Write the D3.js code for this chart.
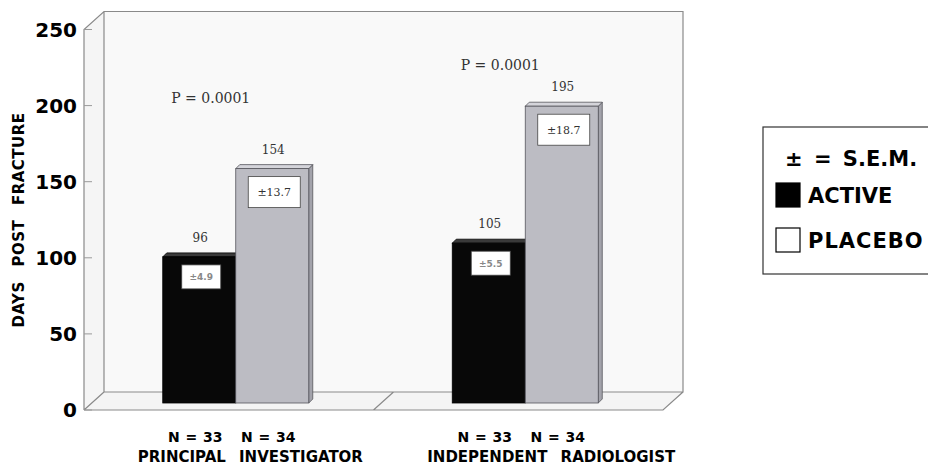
<!DOCTYPE html>
<html lang="en">
  <head>
    <meta charset="UTF-8" />
    <title>Days Post Fracture</title>
    <script src="https://cdn.jsdelivr.net/npm/d3@7"></script>
    <style>
      body {
        margin: 0;
        background: #fff;
      }
      .frame {
        fill: none;
        stroke: #8a8a8a;
        stroke-width: 1.2px;
      }
      .tick-label {
        font-family: "DejaVu Sans", sans-serif;
        font-weight: bold;
        font-size: 20px;
        fill: #000;
      }
      .serif {
        font-family: "DejaVu Serif", serif;
        fill: #333;
      }
      .bold {
        font-family: "DejaVu Sans", sans-serif;
        font-weight: bold;
        fill: #000;
      }
    </style>
  </head>
  <body>
    <script>
      // values
      var categories = ["PRINCIPAL INVESTIGATOR", "INDEPENDENT RADIOLOGIST"];
      var activeMeans = [96, 105];
      var placeboMeans = [154, 195];
      var activeSem = [4.9, 5.5];
      var placeboSem = [13.7, 18.7];
      var activeN = [33, 33];
      var placeboN = [34, 34];
      var pValues = ["0.0001", "0.0001"];
      var yTicks = [0, 50, 100, 150, 200, 250];

      var width = 928,
        height = 467;

      var svg = d3
        .select("body")
        .append("svg")
        .attr("width", width)
        .attr("height", height);

      // front plane scales
      var x = d3.scaleBand().domain(categories).range([84, 663]);
      var y = d3.scaleLinear().domain([0, 250]).range([410, 29.5]);

      var depth = { x: 20, y: -18 }; // frame depth
      var barOff = { x: 7, y: -7 }; // bars sit a bit behind the front edge
      var barW = 73,
        barD = 4;

      var x0 = x.range()[0],
        x1 = x.range()[1],
        yTop = y(250),
        yBot = y(0);

      // walls
      svg
        .append("polygon")
        .attr("points", [
          [x0 + depth.x, yTop + depth.y],
          [x1 + depth.x, yTop + depth.y],
          [x1 + depth.x, yBot + depth.y],
          [x0 + depth.x, yBot + depth.y],
        ].join(" "))
        .attr("fill", "#f9f9f9");
      svg
        .append("polygon")
        .attr("points", [
          [x0, yTop],
          [x0 + depth.x, yTop + depth.y],
          [x0 + depth.x, yBot + depth.y],
          [x0, yBot],
        ].join(" "))
        .attr("fill", "#f5f5f5");
      svg
        .append("polygon")
        .attr("points", [
          [x0, yBot],
          [x0 + depth.x, yBot + depth.y],
          [x1 + depth.x, yBot + depth.y],
          [x1, yBot],
        ].join(" "))
        .attr("fill", "#f4f4f4");

      var frame = d3.path();
      // left edge and back wall
      frame.moveTo(x0, yBot);
      frame.lineTo(x0, yTop);
      frame.lineTo(x0 + depth.x, yTop + depth.y);
      frame.lineTo(x1 + depth.x, yTop + depth.y);
      frame.lineTo(x1 + depth.x, yBot + depth.y);
      frame.lineTo(x0 + depth.x, yBot + depth.y);
      frame.lineTo(x0 + depth.x, yTop + depth.y);
      // floor
      frame.moveTo(x0, yBot);
      frame.lineTo(x0 + depth.x, yBot + depth.y);
      frame.moveTo(x0, yBot);
      frame.lineTo(x1, yBot);
      frame.lineTo(x1 + depth.x, yBot + depth.y);
      // divider between the two groups
      var xd = x(categories[1]);
      frame.moveTo(xd, yBot);
      frame.lineTo(xd + depth.x, yBot + depth.y);
      svg.append("path").attr("class", "frame").attr("d", frame.toString());

      // y ticks
      svg
        .selectAll(".tick")
        .data(yTicks)
        .enter()
        .append("line")
        .attr("x1", x0)
        .attr("x2", x0 + 8)
        .attr("y1", function (d) {
          return y(d);
        })
        .attr("y2", function (d) {
          return y(d);
        })
        .attr("stroke", "#9a9a9a")
        .attr("stroke-width", 1);

      svg
        .selectAll(".tick-label")
        .data(yTicks)
        .enter()
        .append("text")
        .attr("class", "tick-label")
        .attr("x", 77)
        .attr("y", function (d) {
          return y(d) + 7;
        })
        .attr("text-anchor", "end")
        .text(function (d) {
          return d;
        });

      svg
        .append("text")
        .attr("class", "bold")
        .attr("transform", "translate(24,220) rotate(-90)")
        .attr("text-anchor", "middle")
        .style("font-size", "15px")
        .style("letter-spacing", "0.5px")
        .style("word-spacing", "9px")
        .text("DAYS POST FRACTURE");

      // bars
      var bars = [];
      categories.forEach(function (c, i) {
        var left = x(c) + (x.bandwidth() - 2 * barW) / 2 + barOff.x;
        bars.push({ i: i, kind: "active", v: activeMeans[i], sem: activeSem[i], n: activeN[i], left: left });
        bars.push({ i: i, kind: "placebo", v: placeboMeans[i], sem: placeboSem[i], n: placeboN[i], left: left + barW });
      });

      var colors = {
        active: { face: "#080808", top: "#3a3a3a", side: "#222", stroke: "#000" },
        placebo: { face: "#bcbcc3", top: "#d4d4da", side: "#a3a3ab", stroke: "#55555c" },
      };

      var g = svg
        .selectAll(".bar")
        .data(bars)
        .enter()
        .append("g")
        .attr("class", "bar");

      g.each(function (d) {
        var sel = d3.select(this);
        var c = colors[d.kind];
        var l = d.left,
          r = d.left + barW,
          t = y(d.v) + barOff.y,
          b = y(0) + barOff.y;
        sel
          .append("polygon")
          .attr("points", [[r, t], [r + barD, t - barD], [r + barD, b - barD], [r, b]].join(" "))
          .attr("fill", c.side)
          .attr("stroke", c.stroke)
          .attr("stroke-width", 0.8);
        sel
          .append("polygon")
          .attr("points", [[l, t], [l + barD, t - barD], [r + barD, t - barD], [r, t]].join(" "))
          .attr("fill", c.top)
          .attr("stroke", c.stroke)
          .attr("stroke-width", 0.8);
        sel
          .append("rect")
          .attr("x", l)
          .attr("y", t)
          .attr("width", barW)
          .attr("height", b - t)
          .attr("fill", c.face)
          .attr("stroke", c.stroke)
          .attr("stroke-width", 0.8);

        // S.E.M. box
        var bw = d.kind === "active" ? 39 : 52,
          bh = d.kind === "active" ? 24 : 31,
          cx = l + barW / 2 + 2;
        sel
          .append("rect")
          .attr("x", cx - bw / 2)
          .attr("y", t + 8)
          .attr("width", bw)
          .attr("height", bh)
          .attr("fill", "#fff")
          .attr("stroke", "#444")
          .attr("stroke-width", 0.8);
        if (d.kind === "active") {
          sel
            .append("text")
            .attr("class", "bold")
            .attr("x", cx)
            .attr("y", t + 8 + bh / 2 + 3.5)
            .attr("text-anchor", "middle")
            .style("font-size", "9px")
            .style("fill", "#888")
            .text("\u00b1" + d.sem);
        } else {
          sel
            .append("text")
            .attr("class", "serif")
            .attr("x", cx)
            .attr("y", t + 8 + bh / 2 + 4)
            .attr("text-anchor", "middle")
            .style("font-size", "11px")
            .text("\u00b1" + d.sem);
        }

        // value above the bar
        sel
          .append("text")
          .attr("class", "serif")
          .attr("x", l + barW / 2 + 1)
          .attr("y", t - 15)
          .attr("text-anchor", "middle")
          .style("font-size", "12px")
          .text(d.v);

        // N under the bar
        sel
          .append("text")
          .attr("class", "bold")
          .attr("x", l + barW / 2 - 4)
          .attr("y", 442)
          .attr("text-anchor", "middle")
          .style("font-size", "14px")
          .style("word-spacing", "1px")
          .text("N = " + d.n);
      });

      // P values, placed in data units above each group
      var pAt = [205, 227];
      svg
        .selectAll(".pval")
        .data(pValues)
        .enter()
        .append("text")
        .attr("class", "serif")
        .attr("x", function (d, i) {
          return x(categories[i]) + x.bandwidth() / 2 - 18;
        })
        .attr("y", function (d, i) {
          return y(pAt[i]) + 5;
        })
        .attr("text-anchor", "middle")
        .style("font-size", "14px")
        .text(function (d) {
          return "P = " + d;
        });

      // category labels
      svg
        .selectAll(".cat")
        .data(categories)
        .enter()
        .append("text")
        .attr("class", "bold")
        .attr("x", function (d) {
          return x(d) + (x.bandwidth() - 2 * barW) / 2 + barOff.x - 25;
        })
        .attr("y", 462)
        .style("font-size", "15px")
        .style("word-spacing", "8px")
        .text(function (d) {
          return d;
        });

      // legend
      var legend = svg.append("g");
      legend
        .append("rect")
        .attr("x", 763)
        .attr("y", 127)
        .attr("width", 200)
        .attr("height", 147)
        .attr("fill", "#fff")
        .attr("stroke", "#333")
        .attr("stroke-width", 1.2);
      legend
        .append("text")
        .attr("class", "bold")
        .attr("x", 785)
        .attr("y", 166)
        .style("font-size", "21px")
        .style("word-spacing", "4px")
        .text("\u00b1 = S.E.M.");
      var legendItems = [
        { label: "ACTIVE", fill: "#000" },
        { label: "PLACEBO", fill: "#fff" },
      ];
      legendItems.forEach(function (d, i) {
        legend
          .append("rect")
          .attr("x", 776)
          .attr("y", 183 + i * 45)
          .attr("width", 24)
          .attr("height", 24)
          .attr("fill", d.fill)
          .attr("stroke", "#000")
          .attr("stroke-width", 1.2);
        legend
          .append("text")
          .attr("class", "bold")
          .attr("x", 808)
          .attr("y", 203 + i * 45)
          .style("font-size", "21px")
          .style("letter-spacing", i ? "1px" : "0px")
          .text(d.label);
      });
    </script>
  </body>
</html>
